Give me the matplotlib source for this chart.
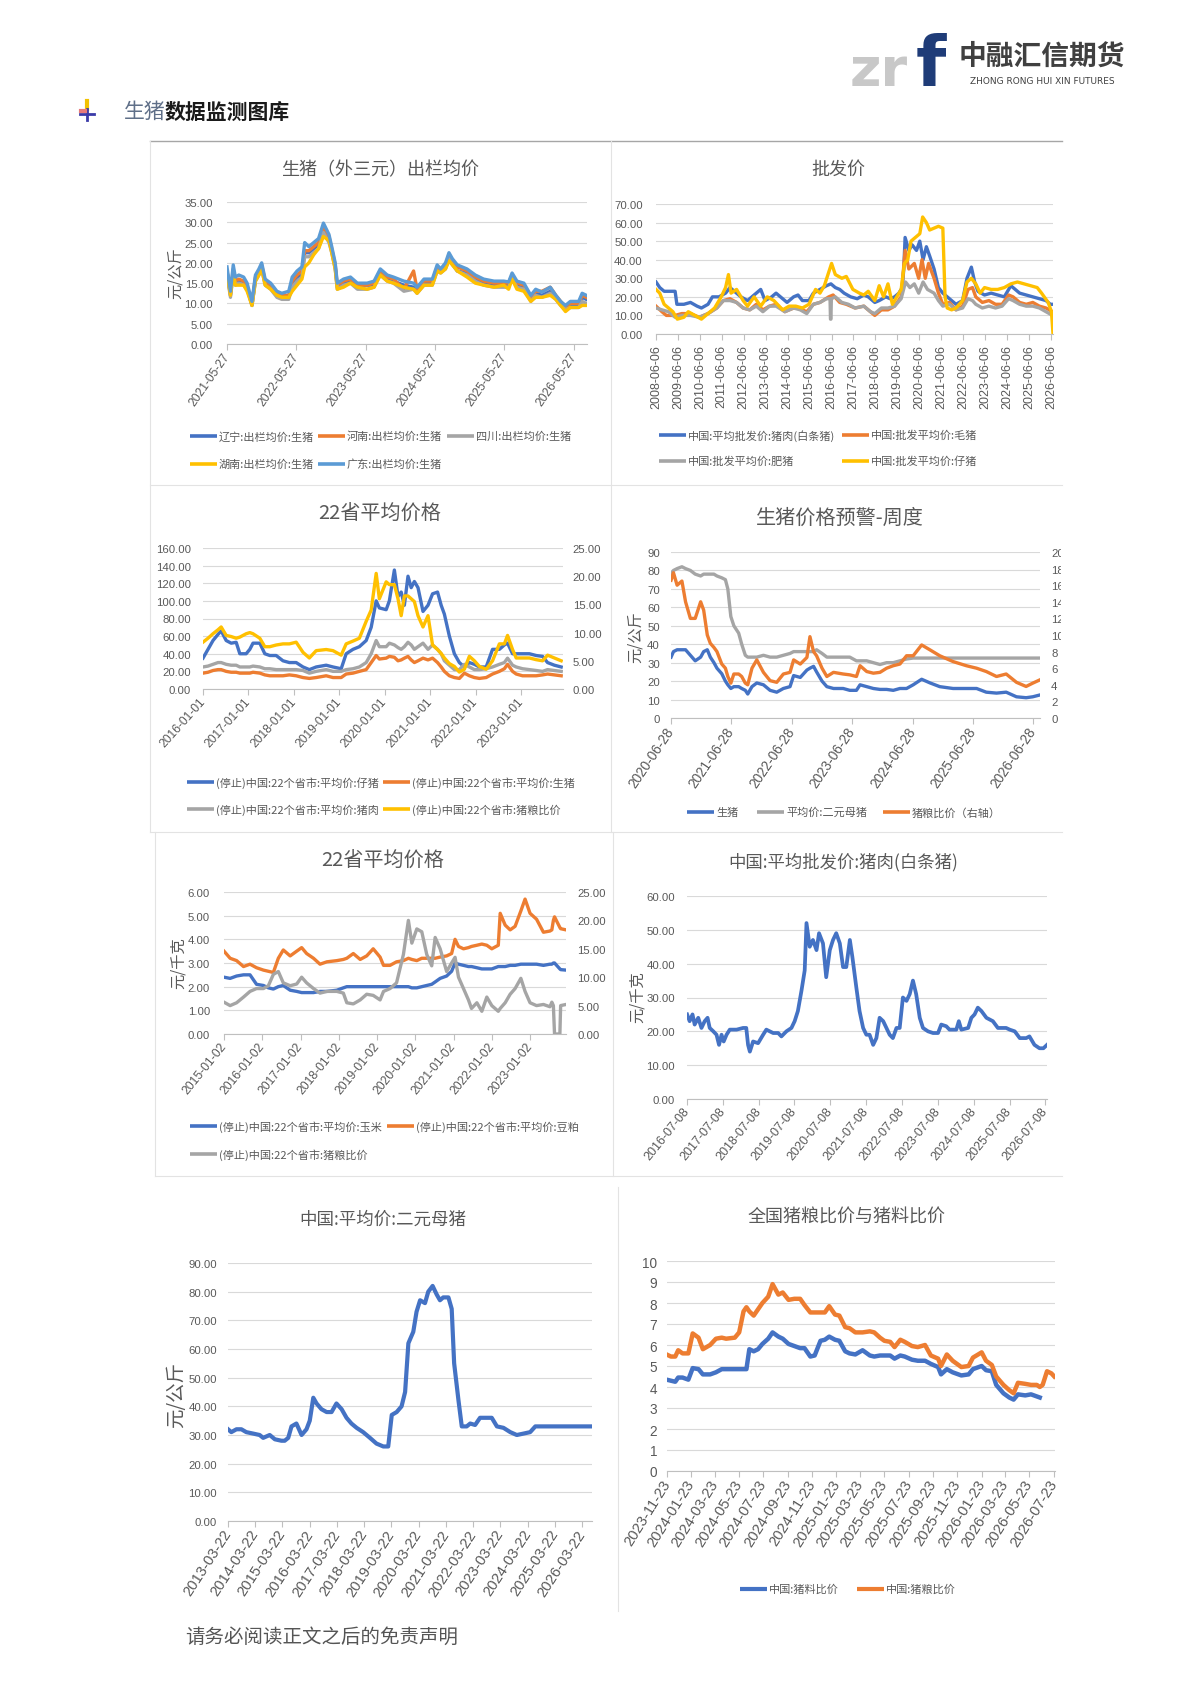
import matplotlib
matplotlib.use("Agg")
import matplotlib.pyplot as plt
import numpy as np
import pandas as pd
from matplotlib import font_manager
from matplotlib.lines import Line2D
from matplotlib.patches import Rectangle

plt.rcParams["font.family"] = ["Noto Sans CJK SC", "DejaVu Sans"]
_installed = {f.name for f in font_manager.fontManager.ttflist}
if "Liberation Sans Narrow" in _installed:
    NUM_FONT, NUM_K = "Liberation Sans Narrow", 1.0
else:
    NUM_FONT, NUM_K = "Liberation Sans", 0.82

BLUE, ORANGE, GREY, YELLOW, LBLUE = "#4472C4", "#ED7D31", "#A5A5A5", "#FFC000", "#5B9BD5"
TXT = "#595959"
GRID_C = "#d9d9d9"
AXIS_C = "#bfbfbf"
W, H = 1190, 1683
LW = 2.4

# ---------------- data (x in decimal years) ----------------
# 1. 生猪(外三元)出栏均价
P1_TICKS = ["2021-05-27", "2022-05-27", "2023-05-27", "2024-05-27", "2025-05-27", "2026-05-27"]
P1_X = [2021.40, 2021.45, 2021.49, 2021.52, 2021.57, 2021.64, 2021.69, 2021.76, 2021.81, 2021.86, 2021.90, 2021.95,
        2022.03, 2022.12, 2022.19, 2022.29, 2022.34, 2022.41, 2022.48, 2022.52, 2022.58, 2022.65, 2022.72, 2022.79,
        2022.87, 2022.91, 2022.96, 2022.99, 2023.08, 2023.18, 2023.28, 2023.42, 2023.52, 2023.61, 2023.71, 2023.80,
        2023.95, 2024.09, 2024.14, 2024.24, 2024.36, 2024.43, 2024.48, 2024.55, 2024.60, 2024.65, 2024.72, 2024.86,
        2024.98, 2025.10, 2025.25, 2025.39, 2025.46, 2025.51, 2025.58, 2025.68, 2025.78, 2025.85, 2025.94, 2026.06,
        2026.14, 2026.21, 2026.28, 2026.35, 2026.47, 2026.52, 2026.58]
P1_LIAONING = [18, 12, 18, 15.5, 15.5, 15.5, 14, 9.5, 16, 17.5, 19, 15,
               14, 12, 11.5, 11.5, 15, 16.5, 17, 22.5, 22.5, 23.5, 24.5, 28.5, 26, 23, 19, 14,
               15, 15.5, 14.5, 14.5, 14.5, 17.5, 16, 15.5, 14.5,
               14, 13, 15, 15, 18.5, 18, 19, 21.5, 20, 18, 17.5, 16,
               15, 14.5, 14.5, 14.5, 16.5, 14.5, 14, 11, 12.5, 12,
               13, 11.5, 10, 8.5, 9.5, 9.5, 11.5, 11]
P1_HENAN = [18, 12.5, 18.5, 15.5, 16, 15.5, 14, 10, 16.5, 18, 19.5, 15.5,
            14.5, 12.5, 12, 12, 15.5, 17, 18, 23, 23, 24, 25, 29, 26.5, 23.5, 19.5, 14.5,
            15.5, 16, 14.5, 14.5, 15, 18, 16.5, 16, 13.5,
            18, 13.5, 15.5, 15.5, 19, 18, 19.5, 22, 20.5, 19, 18, 16.5,
            15.5, 15, 15, 15, 17, 15, 14.5, 11.5, 13, 13,
            14, 12, 10.5, 9, 10, 10, 12, 11.5]
P1_SICHUAN = [17, 11.5, 17.5, 14.5, 15, 14.5, 13.5, 9.5, 15.5, 17, 18.5, 14.5,
              13.5, 11.5, 11, 11, 14, 15.5, 16.5, 21.5, 21.5, 22.5, 23.5, 27.5, 25, 22.5, 18.5, 13.5,
              14.5, 15, 13.5, 13.5, 14, 17, 15.5, 15, 13,
              13.5, 12.5, 14.5, 14.5, 18, 17.5, 18.5, 21, 19.5, 18, 17, 15.5,
              14.5, 14, 14, 14, 16, 14, 13.5, 10.5, 12, 11.5,
              12.5, 11, 9.5, 8.5, 9, 9, 10.5, 10]
P1_HUNAN = [17.5, 12, 17.5, 14.5, 14.5, 14.5, 13, 9.5, 15.5, 17, 18.5, 14.5,
            13.5, 12, 11.5, 11.5, 13, 14.5, 16, 19, 20, 22, 23.5, 26.5, 25.5, 22.5, 18.5, 13.5,
            14, 15, 14, 13.5, 14, 17, 15.5, 15, 14,
            13.5, 12.5, 14.5, 14.5, 18, 17.5, 18.5, 20.5, 19.5, 18, 16.5, 15,
            14.5, 14, 14.5, 13.5, 16, 13.5, 13, 10.5, 11.5, 11.5,
            12, 11, 9.5, 8, 9, 9, 9.5, 9.5]
P1_GUANGDONG = [19, 13, 19.5, 16.5, 17, 16.5, 15, 10.5, 17, 18.5, 20, 16,
                15, 13, 12.5, 13, 16.5, 18, 19, 25, 24, 25, 26, 29.8, 27, 24, 20, 15,
                16, 16.5, 15, 15, 15.5, 18.5, 17, 16.5, 15.5,
                15, 14, 16, 16, 19.5, 18.5, 20, 22.5, 21, 19.5, 18.5, 17,
                16, 15.5, 15.5, 15.3, 17.5, 15.5, 15, 12, 13.5, 12.8,
                14, 12, 10.5, 9.5, 10.5, 10.5, 12.5, 12]

# 2. 批发价
P2_TICKS = [f"{y}-06-06" for y in range(2008, 2027)]
P2_PORK_X = [2008.43, 2008.6, 2008.8, 2009.0, 2009.3, 2009.38, 2009.7, 2010.0, 2010.3, 2010.5, 2010.8,
             2011.0, 2011.3, 2011.6, 2011.8, 2012.0, 2012.3, 2012.6, 2012.9, 2013.0, 2013.2, 2013.4, 2013.7,
             2013.9, 2014.1, 2014.4, 2014.7, 2014.9, 2015.1, 2015.4, 2015.6, 2015.9, 2016.2, 2016.4, 2016.6,
             2016.8, 2017.0, 2017.3, 2017.6, 2017.9, 2018.1, 2018.4, 2018.6, 2018.9, 2019.1, 2019.3, 2019.5,
             2019.65, 2019.72, 2019.78, 2019.95, 2020.1, 2020.3, 2020.45, 2020.6, 2020.75, 2020.9, 2021.1,
             2021.3, 2021.5, 2021.7, 2021.9, 2022.1, 2022.4, 2022.6, 2022.8, 2022.95, 2023.1, 2023.4, 2023.7,
             2024.0, 2024.3, 2024.6, 2024.8, 2025.0, 2025.3, 2025.6, 2025.9, 2026.2, 2026.4, 2026.5]
P2_PORK = [28, 25, 23, 23, 23, 16, 16, 17, 15, 14, 16, 20, 20, 22, 25, 23, 20, 18, 21, 22, 24, 18, 20, 22,
           20, 17, 20, 21, 18, 18, 22, 24, 26, 27, 25, 24, 22, 20, 19, 21, 20, 17, 18, 20, 19, 20, 22, 25,
           35, 52, 45, 48, 45, 50, 40, 47, 42, 35, 25, 22, 20, 18, 16, 18, 30, 36, 28, 23, 21, 22, 21, 20,
           26, 24, 22, 21, 20, 19, 18, 16, 16]
P2_HOG_X = [2008.43, 2008.7, 2008.9, 2009.3, 2009.6, 2010.0, 2010.4, 2010.8, 2011.2, 2011.5, 2011.8, 2012.1,
            2012.4, 2012.7, 2013.0, 2013.3, 2013.6, 2013.9, 2014.3, 2014.7, 2014.9, 2015.3, 2015.6, 2015.9,
            2016.3, 2016.5, 2016.8, 2017.1, 2017.5, 2017.9, 2018.2, 2018.4, 2018.7, 2019.0, 2019.3, 2019.6,
            2019.78, 2019.95, 2020.2, 2020.4, 2020.55, 2020.7, 2020.85, 2021.1, 2021.3, 2021.5, 2021.8,
            2022.1, 2022.4, 2022.65, 2022.85, 2023.0, 2023.3, 2023.6, 2023.9, 2024.2, 2024.5, 2024.7,
            2025.0, 2025.3, 2025.6, 2025.9, 2026.2, 2026.5]
P2_HOG = [15, 12, 10, 10, 11, 11, 9, 11, 14, 18, 19, 17, 14, 13, 16, 13, 15, 16, 12, 14, 14, 12, 16, 17,
          20, 21, 17, 16, 14, 15, 12, 10, 13, 13, 15, 20, 45, 35, 38, 30, 40, 30, 38, 30, 22, 16, 17,
          13, 15, 24, 25, 20, 17, 18, 16, 16, 21, 20, 17, 16, 17, 15, 14, 12]
P2_FAT_X = [2008.43, 2008.7, 2009.0, 2009.3, 2009.6, 2010.0, 2010.4, 2010.8, 2011.2, 2011.5, 2011.8, 2012.1,
            2012.4, 2012.7, 2013.0, 2013.3, 2013.6, 2013.9, 2014.3, 2014.7, 2015.0, 2015.3, 2015.6, 2015.9,
            2016.2, 2016.36, 2016.38, 2016.4, 2016.42, 2016.6, 2016.9, 2017.2, 2017.5, 2017.9, 2018.2,
            2018.4, 2018.7, 2019.0, 2019.3, 2019.6, 2019.8, 2020.0, 2020.2, 2020.4, 2020.6, 2020.8,
            2021.1, 2021.3, 2021.5, 2021.8, 2022.1, 2022.4, 2022.65, 2022.85, 2023.0, 2023.3, 2023.6,
            2023.9, 2024.2, 2024.5, 2024.7, 2025.0, 2025.3, 2025.6, 2025.9, 2026.2, 2026.5]
P2_FAT = [14, 13, 12, 9, 10, 10, 9, 11, 14, 18, 18, 17, 14, 13, 15, 12, 15, 15, 12, 14, 13, 11, 16, 17,
          19, 19, 8, 8, 19, 20, 17, 16, 14, 15, 12, 11, 14, 14, 15, 19, 28, 25, 27, 22, 28, 24,
          22, 18, 15, 16, 13, 14, 19, 18, 16, 14, 15, 14, 15, 19, 18, 16, 15, 15, 14, 12, 10]
P2_PIGLET_X = [2008.43, 2008.6, 2008.8, 2009.0, 2009.2, 2009.4, 2009.7, 2009.9, 2010.2, 2010.5, 2010.8,
               2011.1, 2011.4, 2011.6, 2011.73, 2011.85, 2012.1, 2012.4, 2012.6, 2012.9, 2013.2, 2013.5,
               2013.8, 2014.2, 2014.5, 2014.8, 2015.1, 2015.4, 2015.7, 2015.9, 2016.1, 2016.43, 2016.6,
               2016.9, 2017.1, 2017.4, 2017.7, 2017.9, 2018.1, 2018.4, 2018.6, 2018.8, 2019.0, 2019.2,
               2019.4, 2019.6, 2019.75, 2019.9, 2020.05, 2020.25, 2020.45, 2020.58, 2020.75, 2020.9,
               2021.1, 2021.3, 2021.5, 2021.6, 2021.7, 2021.9, 2022.1, 2022.4, 2022.6, 2022.8, 2023.0,
               2023.2, 2023.4, 2023.7, 2024.0, 2024.3, 2024.6, 2024.9, 2025.2, 2025.5, 2025.8, 2026.0,
               2026.3, 2026.45, 2026.52]
P2_PIGLET = [24, 22, 16, 14, 12, 8, 9, 12, 10, 8, 11, 14, 20, 25, 32, 22, 24, 18, 15, 20, 15, 20, 18,
             13, 15, 15, 14, 16, 24, 22, 26, 38, 32, 30, 31, 24, 22, 21, 23, 18, 26, 20, 27, 16, 20, 24,
             38, 40, 50, 52, 54, 63, 60, 56, 57, 58, 57, 20, 14, 13, 14, 18, 28, 30, 27, 22, 25, 24,
             24, 25, 27, 28, 27, 26, 25, 22, 17, 12, 0]

# 3. 22省平均价格 (仔猪/生猪/猪肉 左轴, 猪粮比价 右轴)
P3_TICKS = ["2016-01-01", "2017-01-01", "2018-01-01", "2019-01-01", "2020-01-01", "2021-01-01",
            "2022-01-01", "2023-01-01"]
P3_X = [2016.00, 2016.11, 2016.22, 2016.33, 2016.40, 2016.51, 2016.62, 2016.73, 2016.81, 2016.95,
        2017.03, 2017.10, 2017.25, 2017.36, 2017.47, 2017.61, 2017.76, 2017.90,
        2018.05, 2018.20, 2018.34, 2018.49, 2018.71, 2018.86,
        2019.04, 2019.15, 2019.30, 2019.44, 2019.59, 2019.70, 2019.81, 2019.88,
        2020.03, 2020.10, 2020.21, 2020.29, 2020.36, 2020.43, 2020.51, 2020.58, 2020.65, 2020.73, 2020.84, 2020.95,
        2021.05, 2021.16, 2021.24, 2021.31, 2021.42, 2021.53, 2021.64, 2021.75, 2021.86, 2021.97,
        2022.08, 2022.23, 2022.37, 2022.52, 2022.63, 2022.70, 2022.81, 2022.89,
        2023.03, 2023.18, 2023.33, 2023.47, 2023.58, 2023.73, 2023.88]
P3_PIGLET = [35, 45, 55, 62, 66, 55, 52, 53, 40, 40, 45, 52, 52, 40, 38, 38, 32, 30,
             30, 25, 22, 25, 27, 25, 23, 40, 45, 48, 55, 70, 100, 92,
             90, 100, 135, 105, 110, 95, 128, 115, 122, 115, 88, 95,
             108, 110, 95, 85, 60, 40, 30, 25, 30, 28, 25, 25, 45, 45, 50, 52, 40, 40,
             40, 40, 38, 37, 30, 27, 25]
P3_HOG = [18, 19, 21, 22, 22, 20, 19, 19, 18, 18, 18, 19, 18, 16, 15, 15, 15, 16,
          15, 13, 12, 13, 15, 13, 13, 17, 18, 20, 22, 30, 38, 34,
          35, 37, 36, 32, 33, 35, 37, 33, 30, 32, 35, 33,
          35, 30, 25, 20, 15, 13, 12, 18, 15, 13, 12, 13, 17, 20, 23, 28, 20, 17,
          15, 15, 15, 16, 17, 16, 15]
P3_PORK = [25, 26, 28, 30, 30, 28, 27, 27, 25, 25, 25, 26, 25, 23, 23, 22, 22, 22,
           22, 21, 18, 20, 22, 20, 20, 22, 23, 25, 30, 40, 55, 48,
           48, 52, 50, 47, 45, 48, 53, 50, 45, 48, 52, 45,
           50, 45, 40, 32, 27, 22, 22, 28, 25, 22, 22, 23, 25, 28, 30, 35, 27, 25,
           23, 22, 21, 20, 22, 21, 20]
P3_RATIO = [8.3, 9.0, 9.8, 10.5, 11.0, 9.5, 9.3, 9.0, 9.2, 9.8, 10.0, 9.8, 9.0, 7.5, 7.5, 7.8, 8.0, 8.0,
            8.3, 6.5, 5.5, 6.8, 7.0, 6.8, 6.0, 8.0, 8.5, 9.0, 12.0, 14.0, 20.5, 16.0,
            19, 18.5, 18.5, 16, 13, 16.5, 16.5, 16, 15.5, 13, 11, 13,
            7.8, 7.0, 6.3, 5.5, 4.5, 4.0, 3.0, 3.5, 5.8, 5.0, 4, 3.5, 5, 8, 8, 9.5, 7, 5.5,
            5.5, 5.5, 5.2, 5, 6, 5.5, 5]

# 4. 生猪价格预警-周度
P4_TICKS = ["2020-06-28", "2021-06-28", "2022-06-28", "2023-06-28", "2024-06-28", "2025-06-28", "2026-06-28"]
P4_X = [2020.49, 2020.53, 2020.59, 2020.67, 2020.73, 2020.81, 2020.89, 2020.98,
        2021.03, 2021.09, 2021.14, 2021.20, 2021.25, 2021.33, 2021.39, 2021.43, 2021.48, 2021.53, 2021.61,
        2021.66, 2021.72, 2021.76, 2021.83, 2021.91,
        2022.02, 2022.13, 2022.24, 2022.35, 2022.46, 2022.52, 2022.63, 2022.74, 2022.79, 2022.85, 2022.90, 2022.99,
        2023.07, 2023.18, 2023.34, 2023.45, 2023.56, 2023.62, 2023.73, 2023.84, 2023.95,
        2024.06, 2024.17, 2024.28, 2024.39, 2024.50, 2024.64, 2024.78, 2024.94,
        2025.16, 2025.38, 2025.55, 2025.71, 2025.88, 2026.04, 2026.21, 2026.37, 2026.48, 2026.60]
P4_HOG = [33, 36, 37, 37, 37, 34, 31, 33, 36, 37, 33, 30, 27, 24, 20, 18, 16, 17, 17, 16, 15, 13, 17, 19,
          18, 15, 14, 16, 17, 23, 22, 26, 27, 28, 25, 20, 17, 16, 16, 15, 15, 18, 17, 16, 15.5,
          15.5, 15, 16, 16, 18, 21, 19, 17, 16, 16, 16, 14, 13.5, 14, 11.5, 11, 11.5, 12.5]
P4_SOW = [78, 80, 81, 82, 81, 80, 78, 77, 78, 78, 78, 78, 77, 76, 75, 70, 55, 50, 46, 40, 34, 33, 33, 33,
          34, 33, 33, 34, 35, 36, 36, 36, 36, 36, 37, 35, 33, 33, 33, 33, 31, 31, 31, 30, 29,
          30, 30, 31, 32, 32.5, 32.5, 32.5, 32.5, 32.5, 32.5, 32.5, 32.5, 32.5, 32.5, 32.5, 32.5, 32.5, 32.5]
P4_RATIO = [16.6, 17.5, 16, 16.5, 14, 12, 12, 14, 13, 10, 9, 8.5, 8, 6.5, 6, 5, 4.2, 5.3, 5.3, 5, 4.2, 4, 6, 7,
            5.5, 4.5, 4.3, 5.3, 5.5, 7, 6.5, 7.3, 9.8, 8, 7.5, 6, 5, 5.5, 5.3, 5.2, 5, 6.3, 5.6, 5.4, 5.5,
            6, 6.3, 6.5, 7.5, 7.5, 8.8, 8.2, 7.5, 6.8, 6.3, 6, 5.6, 5, 5.3, 4.3, 3.8, 4.2, 4.6]

# 5. 22省平均价格 (玉米/豆粕 左轴, 猪粮比价 右轴)
P5_TICKS = ["2015-01-02", "2016-01-02", "2017-01-02", "2018-01-02", "2019-01-02", "2020-01-02",
            "2021-01-02", "2022-01-02", "2023-01-02"]
P5_X = [2015.00, 2015.16, 2015.33, 2015.51, 2015.68, 2015.85,
        2016.03, 2016.16, 2016.29, 2016.42, 2016.55, 2016.73, 2016.90,
        2017.03, 2017.16, 2017.34, 2017.51, 2017.69, 2017.95,
        2018.12, 2018.21, 2018.38, 2018.56, 2018.73, 2018.90,
        2019.08, 2019.17, 2019.34, 2019.51, 2019.69, 2019.82, 2019.91,
        2020.04, 2020.17, 2020.30, 2020.43, 2020.52, 2020.65, 2020.82, 2020.95,
        2021.04, 2021.13, 2021.26, 2021.39, 2021.47, 2021.61, 2021.74, 2021.87,
        2022.00, 2022.17, 2022.22, 2022.35, 2022.48, 2022.61, 2022.76, 2022.87,
        2023.00, 2023.17, 2023.35, 2023.52, 2023.57, 2023.61, 2023.64, 2023.78, 2023.80, 2023.94]
P5_CORN = [2.4, 2.35, 2.45, 2.5, 2.5, 2.1, 2.05, 1.95, 1.9, 2.0, 2.05, 1.85, 1.8,
           1.75, 1.75, 1.75, 1.8, 1.8, 1.85, 1.95, 2.0, 2.0, 2.0, 2.0, 2.0,
           2.0, 2.0, 2.0, 2.0, 2.0, 2.0, 1.95, 1.95, 2.0, 2.05, 2.1, 2.2, 2.35, 2.45, 2.65,
           3.0, 2.95, 2.9, 2.85, 2.85, 2.8, 2.75, 2.75, 2.75, 2.85, 2.85, 2.85, 2.9, 2.9, 2.95, 2.95,
           2.95, 2.95, 2.9, 2.95, 2.95, 3.0, 3.0, 2.75, 2.72, 2.7]
P5_MEAL = [3.5, 3.2, 3.1, 2.85, 2.95, 2.8, 2.7, 2.65, 2.6, 3.2, 3.55, 3.3, 3.5,
           3.65, 3.4, 3.2, 2.95, 3.05, 3.1, 3.15, 3.2, 3.4, 3.15, 3.3, 3.6,
           3.25, 2.9, 2.9, 3.05, 3.1, 3.2, 3.15, 3.1, 3.2, 3.2, 3.2, 3.2, 3.25, 3.3, 3.4,
           4.0, 3.7, 3.6, 3.65, 3.7, 3.75, 3.8, 3.75, 3.6, 3.75, 5.1, 4.6, 4.4, 4.55, 5.2, 5.7,
           5.1, 4.85, 4.3, 4.35, 4.4, 4.8, 4.95, 4.5, 4.45, 4.4]
P5_RATIO = [5.6, 5.0, 5.5, 6.5, 7.5, 8.0, 8.0, 8.5, 10.5, 11.0, 9.0, 8.5, 8.8,
            10.0, 9.0, 8.0, 7.2, 7.5, 7.5, 7.2, 5.5, 5.3, 6.0, 7.0, 6.8,
            6.0, 7.5, 8.0, 9.0, 14.0, 20.0, 16.0, 18.5, 18.0, 14.0, 12.0, 17.0, 15.0, 11.0, 12.5,
            13.5, 10.0, 8.0, 6.0, 4.5, 5.5, 4.0, 6.5, 5.0, 4.0, 4.5, 5.5, 7.0, 8.0, 9.8, 7.5,
            5.5, 5.0, 5.2, 4.8, 5.6, 5.0, 0.0, 0.0, 5.0, 5.2]

# 6. 中国:平均批发价:猪肉(白条猪)
P6_TICKS = [f"{y}-07-08" for y in range(2016, 2027)]
P6_X = [2016.52, 2016.59, 2016.67, 2016.73, 2016.83, 2016.92, 2017.01, 2017.09, 2017.15, 2017.25,
        2017.34, 2017.41, 2017.48, 2017.54, 2017.62, 2017.71, 2017.90, 2018.08, 2018.17, 2018.22,
        2018.27, 2018.36, 2018.50, 2018.64, 2018.73, 2018.92, 2019.06, 2019.15, 2019.29, 2019.43,
        2019.52, 2019.61, 2019.71, 2019.80, 2019.85, 2019.94, 2020.03, 2020.13, 2020.20, 2020.31,
        2020.40, 2020.50, 2020.59, 2020.68, 2020.78, 2020.87, 2020.96, 2021.06, 2021.13, 2021.24,
        2021.33, 2021.43, 2021.52, 2021.61, 2021.71, 2021.80, 2021.89, 2021.99, 2022.08, 2022.17,
        2022.26, 2022.36, 2022.45, 2022.54, 2022.64, 2022.73, 2022.82, 2022.91, 2023.01, 2023.10,
        2023.24, 2023.38, 2023.52, 2023.61, 2023.75, 2023.84, 2024.03, 2024.10, 2024.17, 2024.36,
        2024.45, 2024.54, 2024.63, 2024.73, 2024.87, 2025.05, 2025.19, 2025.42, 2025.52, 2025.66,
        2025.80, 2025.98, 2026.07, 2026.21, 2026.35, 2026.46, 2026.56]
P6_PORK = [25, 23, 25, 22, 24, 21, 23, 24, 21, 20, 19, 16, 19, 17, 19, 20.5, 20.5, 21, 21, 16,
           14, 17, 16.5, 19, 20.5, 19.5, 19.5, 18.5, 20, 21, 23, 26, 32, 38, 52, 45, 47, 44, 49, 46,
           36, 44, 47, 49, 46, 39, 39, 47, 42, 33, 26, 21, 19, 19, 16, 18, 24, 23, 21, 19,
           18, 21, 21, 30, 29, 31, 35, 31, 24, 21, 20, 19.5, 19.5, 22, 21.5, 20.5, 20.5, 23, 20.5, 21,
           24, 25, 27, 26, 24, 23, 21, 21, 20.5, 20, 18, 18, 18.5, 16, 15, 15, 16]

# 7. 中国:平均价:二元母猪
P7_TICKS = [f"{y}-03-22" for y in range(2013, 2027)]
P7_X = [2013.22, 2013.34, 2013.53, 2013.71, 2013.89, 2014.14, 2014.38, 2014.51, 2014.75, 2014.94,
        2015.18, 2015.30, 2015.43, 2015.55, 2015.73, 2015.92, 2016.10, 2016.22, 2016.35, 2016.47,
        2016.65, 2016.84, 2017.02, 2017.20, 2017.39, 2017.57, 2017.75, 2017.94, 2018.18, 2018.43,
        2018.55, 2018.67, 2018.92, 2019.10, 2019.23, 2019.41, 2019.59, 2019.72, 2019.84, 2020.02,
        2020.14, 2020.27, 2020.45, 2020.57, 2020.73, 2020.88, 2021.00, 2021.12, 2021.31, 2021.43,
        2021.52, 2021.68, 2021.80, 2021.98, 2022.11, 2022.29, 2022.47, 2022.72, 2022.90, 2023.09,
        2023.33, 2023.58, 2023.82, 2024.07, 2024.31, 2024.50, 2026.58]
P7_SOW = [32, 31, 32, 32, 31, 30.5, 30, 29, 30, 28.5, 28, 28, 29, 33, 34, 30, 32, 35, 43, 41,
          39, 38, 38, 41, 39, 36, 34, 32.5, 31, 29, 28, 27, 26, 26, 37, 38, 40, 45, 62, 66,
          73, 77, 76, 80, 82, 79, 77, 78, 78, 74, 55, 42, 33, 33, 34, 33.5, 36, 36, 36, 33,
          32.5, 31, 30, 30.5, 31, 33, 33]

# 8. 全国猪粮比价与猪料比价
P8_TICKS = ["2023-11-23", "2024-01-23", "2024-03-23", "2024-05-23", "2024-07-23", "2024-09-23",
            "2024-11-23", "2025-01-23", "2025-03-23", "2025-05-23", "2025-07-23", "2025-09-23",
            "2025-11-23", "2026-01-23", "2026-03-23", "2026-05-23", "2026-07-23"]
P8_X = [2023.89, 2023.92, 2023.95, 2023.97,
        2024.00, 2024.04, 2024.07, 2024.11, 2024.14, 2024.19, 2024.23, 2024.27, 2024.30, 2024.36,
        2024.39, 2024.42, 2024.44, 2024.46, 2024.49, 2024.52, 2024.55, 2024.59, 2024.62, 2024.66,
        2024.69, 2024.73, 2024.77, 2024.81, 2024.84, 2024.88, 2024.91, 2024.95, 2024.98,
        2025.01, 2025.05, 2025.08, 2025.12, 2025.15, 2025.19, 2025.24, 2025.29, 2025.32, 2025.36,
        2025.39, 2025.43, 2025.46, 2025.50, 2025.53, 2025.58, 2025.62, 2025.67, 2025.71, 2025.76,
        2025.78, 2025.82, 2025.86, 2025.92, 2025.97,
        2026.00, 2026.06, 2026.09, 2026.13, 2026.16, 2026.21, 2026.25, 2026.28, 2026.31, 2026.36,
        2026.40, 2026.44, 2026.46, 2026.48, 2026.51, 2026.54, 2026.56]
P8_FEED = [4.35, 4.3, 4.25, 4.45,
           4.45, 4.35, 4.9, 4.85, 4.6, 4.6, 4.7, 4.85, 4.85, 4.85, 4.85, 4.85, 4.85, 5.8, 5.7, 5.8,
           6.05, 6.3, 6.6, 6.4, 6.3, 6.05, 5.95, 5.85, 5.85, 5.45, 5.5, 6.2, 6.25,
           6.4, 6.25, 6.2, 5.7, 5.6, 5.55, 5.75, 5.5, 5.45, 5.5, 5.5, 5.5, 5.35, 5.5, 5.45, 5.3,
           5.25, 5.25, 5.1, 4.95, 4.6, 4.85, 4.7, 4.55, 4.6,
           4.85, 5.0, 4.8, 4.75, 4.1, 3.7, 3.5, 3.4, 3.65, 3.6, 3.65, 3.55, 3.5,
           np.nan, np.nan, np.nan, np.nan]
P8_GRAIN = [5.55, 5.45, 5.45, 5.75,
            5.6, 5.6, 6.55, 6.35, 5.8, 6.0, 6.3, 6.35, 6.3, 6.35, 6.6, 7.6, 7.8, 7.6, 7.4, 7.7,
            8.0, 8.3, 8.9, 8.4, 8.5, 8.15, 8.2, 8.2, 7.9, 7.55, 7.55, 7.55, 7.55,
            7.85, 7.45, 7.4, 6.85, 6.8, 6.6, 6.6, 6.65, 6.6, 6.35, 6.2, 6.15, 5.9, 6.25, 6.15, 5.95,
            5.9, 6.0, 5.5, 5.35, 5.0, 5.55, 5.25, 4.95, 5.0,
            5.4, 5.65, 5.25, 5.05, 4.5, 4.1, 3.85, 3.7, 4.2, 4.15, 4.1, 4.1, 4.0, 4.1, 4.75, 4.65, 4.5]

# ---------------- helpers ----------------
fig = plt.figure(figsize=(W / 100, H / 100), dpi=100)


def yr(s):
    d = pd.Timestamp(s)
    return d.year + (d.dayofyear - 1) / (366 if d.is_leap_year else 365)


def new_axes(l, t, r, b):
    ax = fig.add_axes([l / W, 1 - b / H, (r - l) / W, (b - t) / H])
    ax.patch.set_alpha(0)
    return ax


def ftext(x, y, s, **kw):
    kw.setdefault("color", TXT)
    return fig.text(x / W, 1 - y / H, s, **kw)


def fline(xs, ys, **kw):
    fig.add_artist(Line2D([x / W for x in xs], [1 - y / H for y in ys],
                          transform=fig.transFigure, **kw))


def legend_item(x, y, color, label, lw=2.6):
    fline([x, x + 27], [y, y], color=color, lw=lw, solid_capstyle="butt")
    ftext(x + 29, y, label, fontsize=8, ha="left", va="center")


def yticks_from(ylim, step):
    return np.arange(ylim[0], ylim[1] + step * 0.5, step)


def style(ax, xlim, ticks, ylim, ystep, yfmt, ypad, rot, xsize, ysize=10):
    ax.set_xlim(*xlim)
    ax.set_ylim(*ylim)
    yt = yticks_from(ylim, ystep)
    ax.set_yticks(yt)
    ax.set_yticklabels([yfmt.format(v) for v in yt], fontfamily=NUM_FONT,
                       fontsize=ysize * NUM_K, color=TXT)
    ax.set_xticks([yr(s) for s in ticks])
    ax.set_xticklabels(ticks, rotation=rot, ha="right", va="center", rotation_mode="anchor",
                       fontfamily=NUM_FONT, fontsize=xsize * NUM_K, color=TXT)
    for side in ("top", "right", "left"):
        ax.spines[side].set_visible(False)
    ax.spines["bottom"].set_color(AXIS_C)
    ax.spines["bottom"].set_linewidth(0.8)
    ax.grid(axis="y", color=GRID_C, lw=0.8)
    ax.set_axisbelow(True)
    ax.tick_params(axis="y", length=0, pad=ypad)
    ax.tick_params(axis="x", length=4, width=0.8, color=AXIS_C, pad=3)


def style_right(ax2, ylim, ystep, yfmt, ypad, ysize=10):
    ax2.set_ylim(*ylim)
    yt = yticks_from(ylim, ystep)
    ax2.set_yticks(yt)
    ax2.set_yticklabels([yfmt.format(v) for v in yt], fontfamily=NUM_FONT,
                        fontsize=ysize * NUM_K, color=TXT)
    for side in ("top", "right", "left", "bottom"):
        ax2.spines[side].set_visible(False)
    ax2.tick_params(axis="y", length=0, pad=ypad)
    ax2.patch.set_alpha(0)


# ---------------- header / page ----------------
ftext(850, 86, "zr", fontsize=39, fontweight="bold", color="#c8c8c8", family="DejaVu Sans",
      ha="left", va="baseline")
ftext(916, 86, "f", fontsize=50, fontweight="bold", color="#1f3c78", family="DejaVu Sans",
      ha="left", va="baseline")
ftext(1042, 57, "中融汇信期货", fontsize=20, fontweight="bold", color="#404040", ha="center", va="center")
ftext(1042, 82, "ZHONG RONG HUI XIN FUTURES", fontsize=6.5, color="#404040", family="DejaVu Sans",
      ha="center", va="center")

fline([87, 87], [102, 110], color="#f2c200", lw=3)
fline([87, 87], [110, 121], color="#3a3aa8", lw=2)
fline([80, 94], [115, 115], color="#3a3aa8", lw=2)
fline([81, 85], [112, 112], color="#e87a7a", lw=3)
ftext(124, 112, "生猪", fontsize=15, color="#5f6f88", ha="left", va="center")
ftext(165, 112, "数据监测图库", fontsize=15, fontweight="bold", color="#1a1a1a", ha="left", va="center")

fline([150, 1062], [142, 142], color="#a6a6a6", lw=1.0)
for xs, ys in [([611, 611], [142, 833]), ([150, 1062], [486, 486]), ([150, 1062], [833, 833]),
               ([150, 150], [142, 833]), ([155, 155], [833, 1177]), ([613, 613], [833, 1177]),
               ([155, 1062], [1177, 1177]), ([618, 618], [1188, 1612])]:
    fline(xs, ys, color="#e3e3e3", lw=0.8)

ftext(185, 1637, "请务必阅读正文之后的免责声明", fontsize=14, color="#555555", ha="left", va="center")

# ---------------- panel 1 ----------------
ax = new_axes(227, 203, 587, 345)
for vals, col in [(P1_LIAONING, BLUE), (P1_HENAN, ORANGE), (P1_SICHUAN, GREY),
                  (P1_HUNAN, YELLOW), (P1_GUANGDONG, LBLUE)]:
    ax.plot(P1_X, vals, color=col, lw=LW, solid_joinstyle="round")
style(ax, (2021.40, 2026.59), P1_TICKS, (0, 35), 5, "{:.2f}", 10, 55, 10.5)
ftext(380, 170, "生猪（外三元）出栏均价", fontsize=13, ha="center", va="center")
ftext(175, 273, "元/公斤", fontsize=11, rotation=90, ha="center", va="center")
legend_item(190, 437, BLUE, "辽宁:出栏均价:生猪")
legend_item(318, 437, ORANGE, "河南:出栏均价:生猪")
legend_item(447, 437, GREY, "四川:出栏均价:生猪")
legend_item(190, 465, YELLOW, "湖南:出栏均价:生猪")
legend_item(318, 465, LBLUE, "广东:出栏均价:生猪")

# ---------------- panel 2 ----------------
ax = new_axes(656, 205, 1053, 335)
ax.plot(P2_PORK_X, P2_PORK, color=BLUE, lw=LW)
ax.plot(P2_HOG_X, P2_HOG, color=ORANGE, lw=LW)
ax.plot(P2_FAT_X, P2_FAT, color=GREY, lw=LW)
ax.plot(P2_PIGLET_X, P2_PIGLET, color=YELLOW, lw=LW)
style(ax, (2008.43, 2026.52), P2_TICKS, (0, 70), 10, "{:.2f}", 9.5, 90, 11)
ftext(838, 170, "批发价", fontsize=13, ha="center", va="center")
legend_item(659, 436, BLUE, "中国:平均批发价:猪肉(白条猪)")
legend_item(842, 436, ORANGE, "中国:批发平均价:毛猪")
legend_item(659, 462, GREY, "中国:批发平均价:肥猪")
legend_item(842, 462, YELLOW, "中国:批发平均价:仔猪")

# ---------------- panel 3 ----------------
ax = new_axes(203, 549, 563, 690)
ax.plot(P3_X, P3_PIGLET, color=BLUE, lw=LW)
ax.plot(P3_X, P3_HOG, color=ORANGE, lw=LW)
ax.plot(P3_X, P3_PORK, color=GREY, lw=LW)
style(ax, (2016.0, 2023.92), P3_TICKS, (0, 160), 20, "{:.2f}", 8.6, 48, 10.5)
ax2 = ax.twinx()
ax2.plot(P3_X, P3_RATIO, color=YELLOW, lw=LW)
style_right(ax2, (0, 25), 5, "{:.2f}", 7)
ftext(380, 513, "22省平均价格", fontsize=14.5, ha="center", va="center")
legend_item(187, 783, BLUE, "(停止)中国:22个省市:平均价:仔猪")
legend_item(383, 783, ORANGE, "(停止)中国:22个省市:平均价:生猪")
legend_item(187, 810, GREY, "(停止)中国:22个省市:平均价:猪肉")
legend_item(383, 810, YELLOW, "(停止)中国:22个省市:猪粮比价")

# ---------------- panel 4 ----------------
ax = new_axes(671, 553, 1040, 719)
ax.plot(P4_X, P4_HOG, color=BLUE, lw=LW)
ax.plot(P4_X, P4_SOW, color=GREY, lw=LW)
style(ax, (2020.49, 2026.60), P4_TICKS, (0, 90), 10, "{:.0f}", 8, 56, 12)
ax2 = ax.twinx()
ax2.plot(P4_X, P4_RATIO, color=ORANGE, lw=LW)
style_right(ax2, (0, 20), 2, "{:.0f}", 8)
fig.add_artist(Rectangle((1061 / W, 1 - 730 / H), 120 / W, 190 / H, transform=fig.transFigure,
                         facecolor="white", edgecolor="none", zorder=5))
ftext(840, 518, "生猪价格预警-周度", fontsize=14.5, ha="center", va="center")
ftext(635, 637, "元/公斤", fontsize=11, rotation=90, ha="center", va="center")
legend_item(687, 813, BLUE, "生猪")
legend_item(757, 813, GREY, "平均价:二元母猪")
legend_item(883, 813, ORANGE, "猪粮比价（右轴）")

# ---------------- panel 5 ----------------
ax = new_axes(224, 893, 566, 1035)
ax.plot(P5_X, P5_CORN, color=BLUE, lw=LW)
ax.plot(P5_X, P5_MEAL, color=ORANGE, lw=LW)
style(ax, (2015.0, 2023.94), P5_TICKS, (0, 6), 1, "{:.2f}", 10, 51, 10.8)
ax2 = ax.twinx()
ax2.plot(P5_X, P5_RATIO, color=GREY, lw=LW)
style_right(ax2, (0, 25), 5, "{:.2f}", 8)
ftext(383, 860, "22省平均价格", fontsize=14.5, ha="center", va="center")
ftext(178, 963, "元/千克", fontsize=11, rotation=90, ha="center", va="center")
legend_item(190, 1127, BLUE, "(停止)中国:22个省市:平均价:玉米")
legend_item(387, 1127, ORANGE, "(停止)中国:22个省市:平均价:豆粕")
legend_item(190, 1155, GREY, "(停止)中国:22个省市:猪粮比价")

# ---------------- panel 6 ----------------
ax = new_axes(687, 897, 1047, 1100)
ax.plot(P6_X, P6_PORK, color=BLUE, lw=2.7)
style(ax, (2016.52, 2026.56), P6_TICKS, (0, 60), 10, "{:.2f}", 8.6, 51, 11)
ftext(843, 862, "中国:平均批发价:猪肉(白条猪)", fontsize=12.5, ha="center", va="center")
ftext(637, 997, "元/千克", fontsize=11, rotation=90, ha="center", va="center")

# ---------------- panel 7 ----------------
ax = new_axes(228, 1264, 592, 1522)
ax.plot(P7_X, P7_SOW, color=BLUE, lw=3.0)
style(ax, (2013.22, 2026.58), P7_TICKS, (0, 90), 10, "{:.2f}", 8, 57, 13)
ftext(383, 1220, "中国:平均价:二元母猪", fontsize=12.6, ha="center", va="center")
ftext(177, 1395, "元/公斤", fontsize=14, rotation=90, ha="center", va="center")

# ---------------- panel 8 ----------------
ax = new_axes(667, 1262, 1055, 1472)
ax.plot(P8_X, P8_FEED, color=BLUE, lw=3.2)
ax.plot(P8_X, P8_GRAIN, color=ORANGE, lw=3.2)
style(ax, (2023.893, 2026.565), P8_TICKS, (0, 10), 1, "{:.0f}", 7, 58, 13, ysize=12)
ftext(847, 1218, "全国猪粮比价与猪料比价", fontsize=13, ha="center", va="center")
legend_item(740, 1590, BLUE, "中国:猪料比价", lw=3.0)
legend_item(857, 1590, ORANGE, "中国:猪粮比价", lw=3.0)

fig.savefig("out.png", dpi=100)
